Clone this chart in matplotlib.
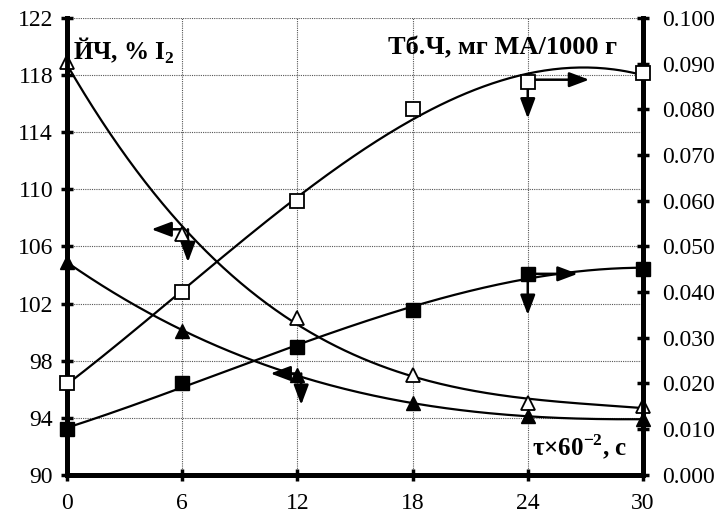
import numpy as np
import matplotlib
matplotlib.use("Agg")
import matplotlib.pyplot as plt

plt.rcParams['font.family'] = ['Liberation Serif', 'DejaVu Serif']
plt.rcParams['mathtext.fontset'] = 'custom'
plt.rcParams['mathtext.rm'] = 'Liberation Serif'
plt.rcParams['mathtext.bf'] = 'Liberation Serif:bold'

x = [0, 6, 12, 18, 24, 30]
iv_open = [118.9, 106.9, 101.0, 97.0, 95.0, 94.8]      # open triangles, left axis
iv_filled = [104.9, 100.1, 97.0, 95.0, 94.1, 93.9]     # filled triangles, left axis
tb_open = [0.020, 0.040, 0.060, 0.080, 0.086, 0.088]   # open squares, right axis
tb_filled = [0.010, 0.020, 0.028, 0.036, 0.044, 0.045] # filled squares, right axis

left_ticks = [90, 94, 98, 102, 106, 110, 114, 118, 122]
right_ticks = [0.000, 0.010, 0.020, 0.030, 0.040, 0.050, 0.060, 0.070, 0.080, 0.090, 0.100]
x_ticks = [0, 6, 12, 18, 24, 30]

fig = plt.figure(figsize=(7.2, 5.15), dpi=100)
ax = fig.add_axes([0.093, 0.078, 0.800, 0.887])
ax2 = ax.twinx()

xs = np.linspace(0, 30, 200)

def trend(xv, yv, deg):
    c = np.polyfit(xv, yv, deg)
    return np.polyval(c, xs)

lw = 1.6
ax.plot(xs, trend(x, iv_open, 3), color='black', lw=lw)
ax.plot(xs, trend(x, iv_filled, 3), color='black', lw=lw)
ax2.plot(xs, trend(x, tb_open, 3), color='black', lw=lw)
ax2.plot(xs, trend(x, tb_filled, 3), color='black', lw=lw)

ms = 10
ax.plot(x, iv_open, ls='none', marker='^', ms=ms, mfc='white', mec='black', mew=1.3, clip_on=False, zorder=5)
ax.plot(x, iv_filled, ls='none', marker='^', ms=ms, mfc='black', mec='black', clip_on=False, zorder=5)
ax2.plot(x, tb_open, ls='none', marker='s', ms=ms, mfc='white', mec='black', mew=1.3, clip_on=False, zorder=5)
ax2.plot(x, tb_filled, ls='none', marker='s', ms=ms, mfc='black', mec='black', clip_on=False, zorder=5)

arw = dict(arrowstyle='-|>,head_length=1.2,head_width=0.45', color='black', lw=1.8, shrinkA=0, shrinkB=0)
# axis-indicating arrows
ax.annotate('', xy=(4.4, 107.2), xytext=(6.0, 107.2), arrowprops=arw)
ax.annotate('', xy=(6.3, 104.9), xytext=(6.3, 107.2), arrowprops=arw)
ax.annotate('', xy=(10.6, 97.1), xytext=(12.0, 97.1), arrowprops=arw)
ax.annotate('', xy=(12.2, 94.9), xytext=(12.2, 97.1), arrowprops=arw)
ax2.annotate('', xy=(27.2, 0.0865), xytext=(24.0, 0.0865), arrowprops=arw)
ax2.annotate('', xy=(24.0, 0.0780), xytext=(24.0, 0.0865), arrowprops=arw)
ax2.annotate('', xy=(26.6, 0.0440), xytext=(24.0, 0.0440), arrowprops=arw)
ax2.annotate('', xy=(24.0, 0.0350), xytext=(24.0, 0.0440), arrowprops=arw)

ax.set_xlim(0, 30)
ax.set_ylim(90, 122)
ax2.set_ylim(0, 0.100)
ax.set_xticks(x_ticks)
ax.set_yticks(left_ticks)
ax2.set_yticks(right_ticks)
ax2.set_yticklabels([f"{v:.3f}" for v in right_ticks])

ax.grid(True, color='#555555', ls=(0, (1, 1)), lw=0.8)
for a in (ax, ax2):
    a.spines['top'].set_visible(False)
    for s in ('left', 'right', 'bottom'):
        a.spines[s].set_linewidth(3.5)
    a.tick_params(direction='inout', length=8, width=2.5, labelsize=17)
ax.tick_params(axis='x', pad=9)
ax.tick_params(axis='y', pad=6)
ax2.tick_params(axis='y', pad=10)
ax.set_axisbelow(True)

ax.text(0.3, 119.7, 'ЙЧ, % I$_\\mathbf{2}$', fontsize=18, fontweight='bold', va='center', ha='left')
ax.text(28.65, 119.9, 'Тб.Ч, мг МА/1000 г', fontsize=19, fontweight='bold', va='center', ha='right')
ax.text(29.2, 91.9, 'τ×60$^{\\mathbf{-2}}$, с', fontsize=18, fontweight='bold', va='center', ha='right')

fig.savefig('out.png', dpi=100)
